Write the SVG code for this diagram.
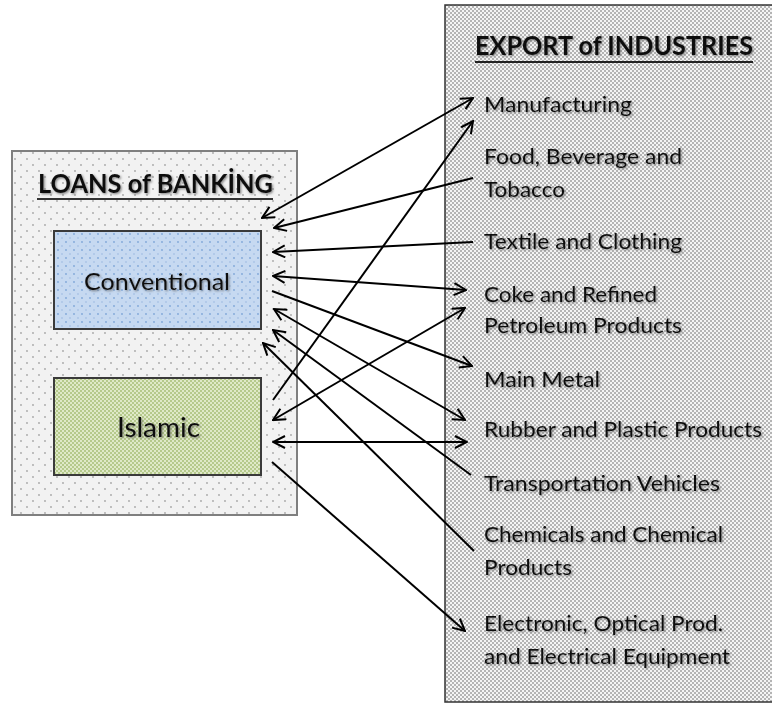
<svg xmlns="http://www.w3.org/2000/svg" width="772" height="704" viewBox="0 0 772 704">
<defs>
<pattern id="pDots" width="12" height="12" patternUnits="userSpaceOnUse">
<rect width="12" height="12" fill="#f2f2f2"/>
<circle cx="3" cy="3" r="0.9" fill="#a6a6a6"/>
<circle cx="9" cy="9" r="0.9" fill="#a6a6a6"/>
</pattern>
<pattern id="pBlue" width="8" height="8" patternUnits="userSpaceOnUse">
<rect width="8" height="8" fill="#c6d9f1"/>
<circle cx="2" cy="2" r="0.9" fill="#7fa6d8"/>
<circle cx="6" cy="6" r="0.9" fill="#a9c3e6"/>
</pattern>
<pattern id="pGreen" width="4" height="4" patternUnits="userSpaceOnUse">
<rect width="4" height="4" fill="#b5c98c"/>
<rect x="0" y="0" width="2" height="2" fill="#dfe9c8"/>
<rect x="2" y="2" width="2" height="2" fill="#dfe9c8"/>
</pattern>
<pattern id="pGray" width="4" height="4" patternUnits="userSpaceOnUse">
<rect width="4" height="4" fill="#b4b4b4"/>
<rect x="0" y="0" width="2" height="2" fill="#f4f4f4"/>
<rect x="2" y="2" width="2" height="2" fill="#f4f4f4"/>
</pattern>
<filter id="sh" x="-5%" y="-20%" width="110%" height="150%">
<feDropShadow dx="1.2" dy="1.2" stdDeviation="0.8" flood-color="#555" flood-opacity="0.7"/>
</filter>
<marker id="ah" viewBox="0 0 14 14" refX="13" refY="7" markerWidth="14" markerHeight="14" markerUnits="userSpaceOnUse" orient="auto-start-reverse">
<path d="M1,1 L13,7 L1,13" fill="none" stroke="#000" stroke-width="2" stroke-linejoin="miter"/>
</marker>
</defs>
<style>
text{font-family:Lato,"Open Sans","Liberation Sans",sans-serif;fill:#111;filter:url(#sh)}
.lbl{font-size:21px}
.ttl{font-size:26px;font-weight:bold}
.ln{stroke:#000;stroke-width:2;fill:none}
</style>
<rect width="772" height="704" fill="#fff"/>

<g id="export-industries">
<rect x="445" y="5" width="340" height="697" fill="url(#pGray)" stroke="#333" stroke-width="1.5"/>
<text class="ttl" x="475" y="55" textLength="278" lengthAdjust="spacingAndGlyphs">EXPORT of INDUSTRIES</text>
<line x1="475" y1="62" x2="753" y2="62" stroke="#222" stroke-width="2"/>
<text class="lbl" x="484" y="112" textLength="148" lengthAdjust="spacingAndGlyphs">Manufacturing</text>
<text class="lbl" x="484" y="164" textLength="198" lengthAdjust="spacingAndGlyphs">Food, Beverage and</text>
<text class="lbl" x="484" y="197" textLength="81" lengthAdjust="spacingAndGlyphs">Tobacco</text>
<text class="lbl" x="484" y="249" textLength="198" lengthAdjust="spacingAndGlyphs">Textile and Clothing</text>
<text class="lbl" x="484" y="302" textLength="173" lengthAdjust="spacingAndGlyphs">Coke and Refined</text>
<text class="lbl" x="484" y="333" textLength="198" lengthAdjust="spacingAndGlyphs">Petroleum Products</text>
<text class="lbl" x="484" y="387" textLength="116" lengthAdjust="spacingAndGlyphs">Main Metal</text>
<text class="lbl" x="484" y="437" textLength="278" lengthAdjust="spacingAndGlyphs">Rubber and Plastic Products</text>
<text class="lbl" x="484" y="491" textLength="236" lengthAdjust="spacingAndGlyphs">Transportation Vehicles</text>
<text class="lbl" x="484" y="542" textLength="239" lengthAdjust="spacingAndGlyphs">Chemicals and Chemical</text>
<text class="lbl" x="484" y="575" textLength="88" lengthAdjust="spacingAndGlyphs">Products</text>
<text class="lbl" x="484" y="631" textLength="239" lengthAdjust="spacingAndGlyphs">Electronic, Optical Prod.</text>
<text class="lbl" x="484" y="664" textLength="246" lengthAdjust="spacingAndGlyphs">and Electrical Equipment</text>
</g>

<g id="loans-of-banking">
<rect x="12" y="151" width="285" height="364" fill="url(#pDots)" stroke="#7f7f7f" stroke-width="2"/>
<text class="ttl" x="38" y="193" textLength="235" lengthAdjust="spacingAndGlyphs">LOANS of BANKİNG</text>
<line x1="37" y1="199" x2="273" y2="199" stroke="#333" stroke-width="2"/>
</g>

<g id="conventional">
<rect x="54" y="231" width="207" height="98" fill="url(#pBlue)" stroke="#3a3a3a" stroke-width="2"/>
<text x="84" y="290" font-size="23" textLength="146" lengthAdjust="spacingAndGlyphs">Conventional</text>
</g>

<g id="islamic">
<rect x="54" y="378" width="207" height="97" fill="url(#pGreen)" stroke="#3a3a3a" stroke-width="2"/>
<text x="117" y="437" font-size="26" textLength="83" lengthAdjust="spacingAndGlyphs">Islamic</text>
</g>

<g id="connectors">
<line class="ln" x1="262" y1="218" x2="473" y2="98" marker-start="url(#ah)" marker-end="url(#ah)"/>
<line class="ln" x1="273" y1="400" x2="473" y2="121" marker-end="url(#ah)"/>
<line class="ln" x1="473" y1="178" x2="274" y2="228" marker-end="url(#ah)"/>
<line class="ln" x1="473" y1="242" x2="273" y2="252" marker-end="url(#ah)"/>
<line class="ln" x1="273" y1="276" x2="466" y2="290" marker-start="url(#ah)" marker-end="url(#ah)"/>
<line class="ln" x1="272" y1="291" x2="472" y2="366" marker-end="url(#ah)"/>
<line class="ln" x1="273" y1="420" x2="465" y2="308" marker-start="url(#ah)" marker-end="url(#ah)"/>
<line class="ln" x1="274" y1="309" x2="465" y2="420" marker-start="url(#ah)" marker-end="url(#ah)"/>
<line class="ln" x1="273" y1="442" x2="467" y2="442" marker-start="url(#ah)" marker-end="url(#ah)"/>
<line class="ln" x1="471" y1="475" x2="273" y2="330" marker-end="url(#ah)"/>
<line class="ln" x1="474" y1="551" x2="263" y2="343" marker-end="url(#ah)"/>
<line class="ln" x1="272" y1="462" x2="465" y2="631" marker-end="url(#ah)"/>
</g>
</svg>
